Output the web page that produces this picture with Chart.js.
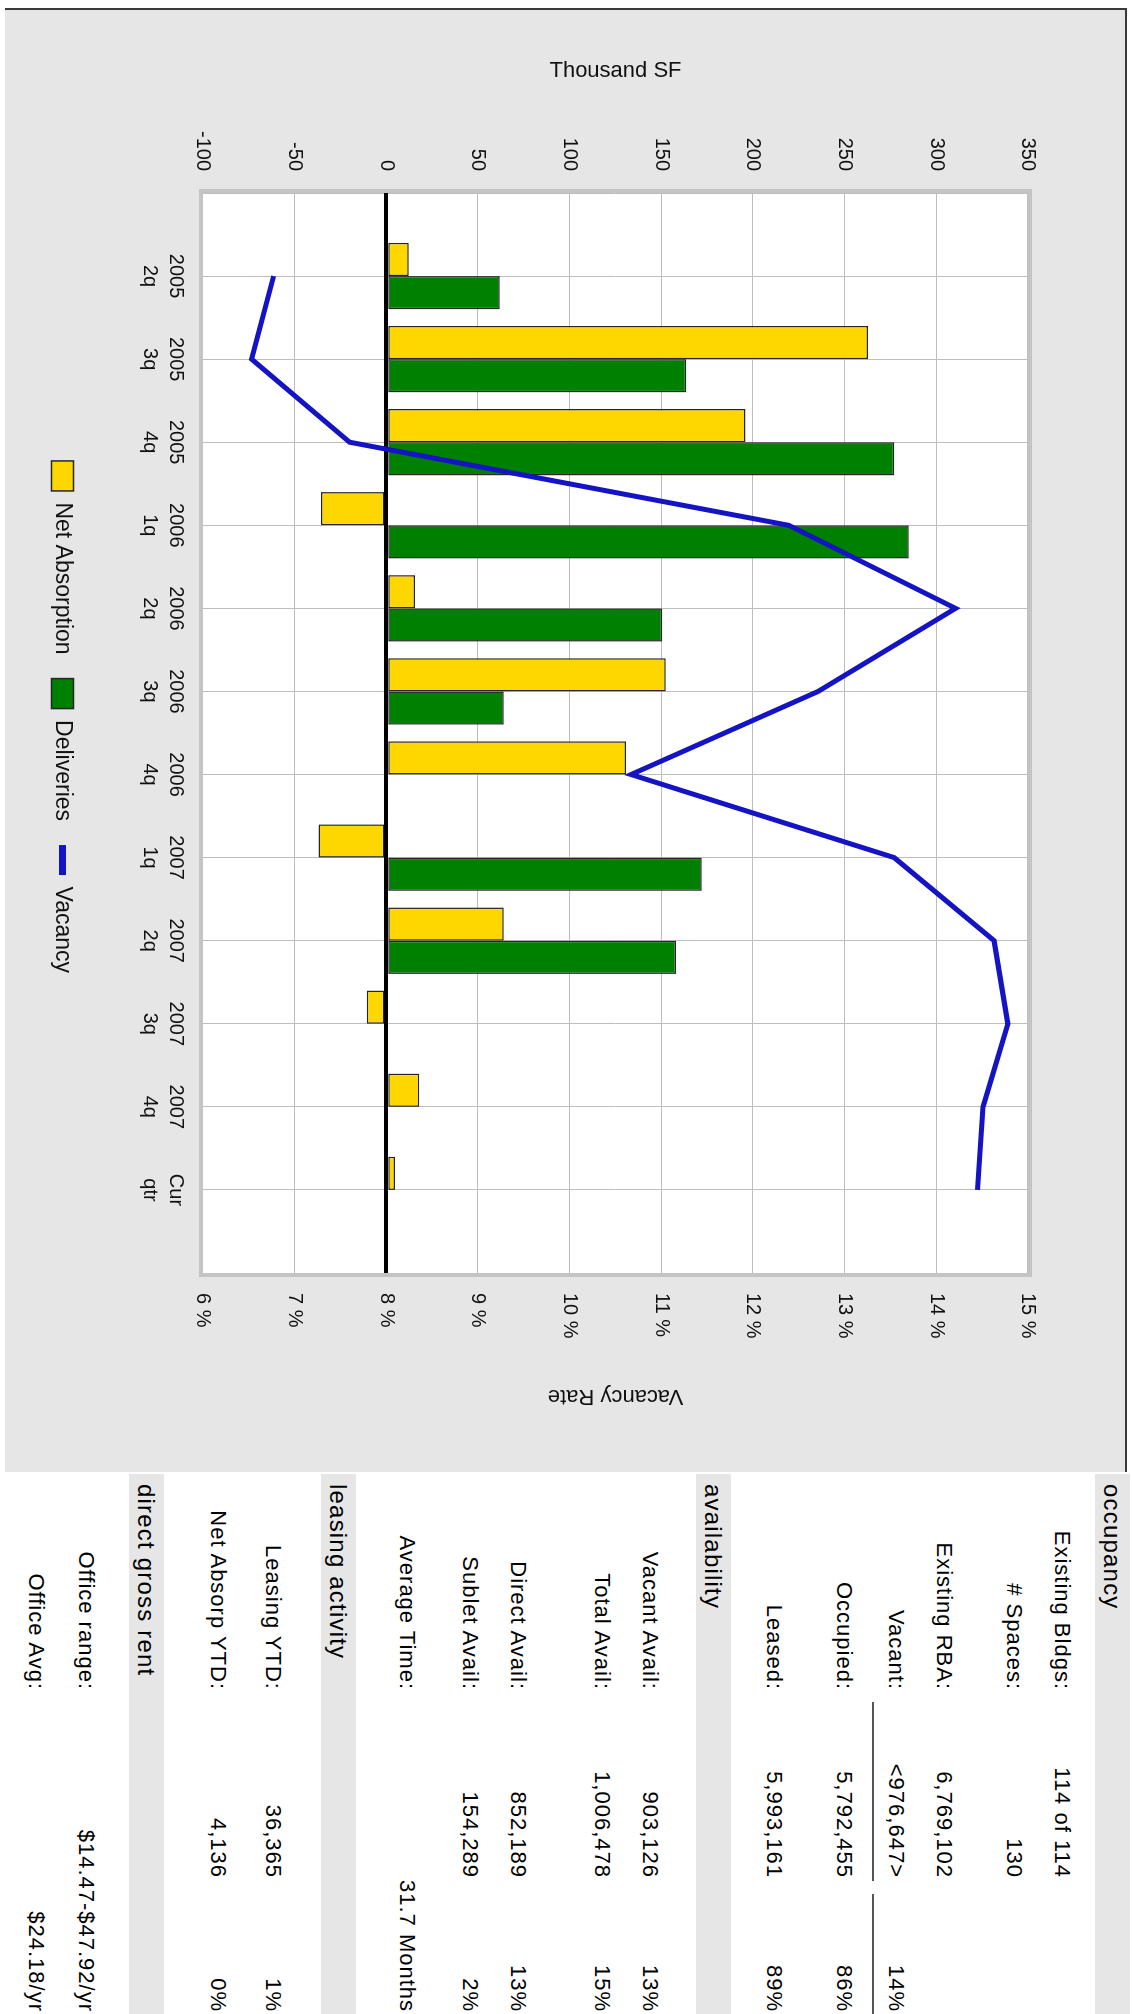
<!DOCTYPE html>
<html>
<head>
<meta charset="utf-8">
<title>Office market summary</title>
<script src="https://cdn.jsdelivr.net/npm/chart.js@4.4.1/dist/chart.umd.min.js"></script>
<style>
  html, body { margin: 0; padding: 0; background: #fff; overflow: hidden; }
  body { width: 1132px; height: 2014px; position: relative; }
  /* the report is laid out landscape and turned a quarter clockwise */
  #page {
    position: absolute; left: 0; top: 0;
    width: 2014px; height: 1132px;
    transform-origin: 0 0;
    transform: translate(1132px, 0) rotate(90deg);
    font-family: "Liberation Sans", Arial, sans-serif;
    color: #000;
  }
  #panel {
    position: absolute; left: 8px; top: 5px;
    width: 1462px; height: 1120px;
    background: #e6e6e6;
    border-left: 2px solid #3a3a3a;
    border-top: 2px solid #3a3a3a;
  }
  #chart { display: block; }
  #stats {
    position: absolute; left: 1474px; top: 2px;
    width: 540px;
    border-collapse: collapse; table-layout: fixed;
    background: #fff;
    font-size: 22px; letter-spacing: 1px;
  }
  #stats td { padding: 0; white-space: nowrap; overflow: visible; }
  #stats tr.h td {
    height: 35px; background: #e6e6e6;
    font-size: 24px; letter-spacing: 1.2px;
    padding-left: 10px;
  }
  #stats tr.r td { height: 48px; line-height: 48px; }
  #stats td.k { text-align: right; padding-right: 10px; }
  #stats td.v { padding: 0 9px 0 2px; }
  #stats td.p { padding: 0 0 0 4px; }
  #stats td.w { text-align: right; padding-right: 2px; }
  #stats td.v div { text-align: right; padding-right: 3px; }
  #stats td.p div { text-align: right; padding-right: 2px; }
  #stats div.u { border-bottom: 2px solid #555; height: 46px; }
</style>
</head>
<body>
<div id="page">
  <div id="panel"><canvas id="chart" width="1462" height="1120"></canvas></div>
  <table id="stats">
    <colgroup><col style="width:226px"><col style="width:190px"><col style="width:124px"></colgroup>
    <tr class="h"><td colspan="3">occupancy</td></tr>
    <tr><td colspan="3" style="height:9px"></td></tr>
    <tr class="r"><td class="k">Existing Bldgs:</td><td class="v"><div>114 of 114</div></td><td class="p"></td></tr>
    <tr class="r"><td class="k"># Spaces:</td><td class="v"><div>130</div></td><td class="p"></td></tr>
    <tr><td colspan="3" style="height:22px"></td></tr>
    <tr class="r"><td class="k">Existing RBA:</td><td class="v"><div>6,769,102</div></td><td class="p"></td></tr>
    <tr class="r"><td class="k">Vacant:</td><td class="v"><div class="u">&lt;976,647&gt;</div></td><td class="p"><div class="u">14%</div></td></tr>
    <tr><td colspan="3" style="height:4px"></td></tr>
    <tr class="r"><td class="k">Occupied:</td><td class="v"><div>5,792,455</div></td><td class="p"><div>86%</div></td></tr>
    <tr><td colspan="3" style="height:22px"></td></tr>
    <tr class="r"><td class="k">Leased:</td><td class="v"><div>5,993,161</div></td><td class="p"><div>89%</div></td></tr>
    <tr><td colspan="3" style="height:19px"></td></tr>
    <tr class="h"><td colspan="3">availability</td></tr>
    <tr><td colspan="3" style="height:22px"></td></tr>
    <tr class="r"><td class="k">Vacant Avail:</td><td class="v"><div>903,126</div></td><td class="p"><div>13%</div></td></tr>
    <tr class="r"><td class="k">Total Avail:</td><td class="v"><div>1,006,478</div></td><td class="p"><div>15%</div></td></tr>
    <tr><td colspan="3" style="height:36px"></td></tr>
    <tr class="r"><td class="k">Direct Avail:</td><td class="v"><div>852,189</div></td><td class="p"><div>13%</div></td></tr>
    <tr class="r"><td class="k">Sublet Avail:</td><td class="v"><div>154,289</div></td><td class="p"><div>2%</div></td></tr>
    <tr><td colspan="3" style="height:15px"></td></tr>
    <tr class="r"><td class="k">Average Time:</td><td class="w" colspan="2">31.7 Months</td></tr>
    <tr><td colspan="3" style="height:27px"></td></tr>
    <tr class="h"><td colspan="3">leasing activity</td></tr>
    <tr><td colspan="3" style="height:24px"></td></tr>
    <tr class="r"><td class="k">Leasing YTD:</td><td class="v"><div>36,365</div></td><td class="p"><div>1%</div></td></tr>
    <tr><td colspan="3" style="height:7px"></td></tr>
    <tr class="r"><td class="k">Net Absorp YTD:</td><td class="v"><div>4,136</div></td><td class="p"><div>0%</div></td></tr>
    <tr><td colspan="3" style="height:30px"></td></tr>
    <tr class="h"><td colspan="3">direct gross rent</td></tr>
    <tr><td colspan="3" style="height:19px"></td></tr>
    <tr class="r"><td class="k">Office range:</td><td class="w" colspan="2">$14.47-$47.92/yr</td></tr>
    <tr><td colspan="3" style="height:2px"></td></tr>
    <tr class="r"><td class="k">Office Avg:</td><td class="w" colspan="2">$24.18/yr</td></tr>
  </table>
</div>
<script>
// quarterly figures, thousand SF and percent
const quarters = [
    ['2005', '2q'], ['2005', '3q'], ['2005', '4q'],
    ['2006', '1q'], ['2006', '2q'], ['2006', '3q'], ['2006', '4q'],
    ['2007', '1q'], ['2007', '2q'], ['2007', '3q'], ['2007', '4q'],
    ['Cur', 'qtr']
];
const netAbsorption = [12.2, 262.7, 195.9, -35.7, 15.7, 152.4, 130.7, -37.0, 64.0, -10.7, 17.9, 4.7];
const deliveries = [61.8, 163.6, 277.0, 285.0, 150.5, 64.0, 0, 172.0, 158.0, 0, 0, 0];
const vacancyRate = [6.77, 6.53, 7.60, 12.39, 14.21, 12.71, 10.67, 13.54, 14.63, 14.78, 14.51, 14.45];

// empty slot at each end so the quarters sit one step in from the frame
const pad = arr => [null, ...arr, null];

Chart.defaults.font.family = '"Liberation Sans", Arial, sans-serif';
Chart.defaults.color = '#111';

const gridColor = '#bdbdbd';

const plotFrame = {
    id: 'plotFrame',
    beforeDraw(chart) {
        const {ctx, chartArea: a} = chart;
        ctx.save();
        ctx.fillStyle = '#fff';
        ctx.fillRect(a.left, a.top, a.right - a.left, a.bottom - a.top);
        ctx.restore();
    },
    afterDraw(chart) {
        const {ctx, chartArea: a} = chart;
        ctx.save();
        ctx.strokeStyle = '#c4c4c4';
        ctx.lineWidth = 4;
        ctx.strokeRect(a.left - 2, a.top - 2, a.right - a.left + 4, a.bottom - a.top + 4);
        ctx.restore();
    }
};

new Chart(document.getElementById('chart'), {
    type: 'bar',
    data: {
        labels: ['', ...quarters, ''],
        datasets: [{
            label: 'Net Absorption',
            data: pad(netAbsorption),
            backgroundColor: '#ffd700',
            borderColor: '#262626',
            borderWidth: 1.5,
            borderSkipped: false,
            categoryPercentage: 0.8,
            barPercentage: 1,
            yAxisID: 'y',
            order: 1
        }, {
            label: 'Deliveries',
            data: pad(deliveries),
            backgroundColor: '#008000',
            borderColor: '#262626',
            borderWidth: 1.5,
            borderSkipped: false,
            categoryPercentage: 0.8,
            barPercentage: 1,
            yAxisID: 'y',
            order: 1
        }, {
            type: 'line',
            label: 'Vacancy',
            data: pad(vacancyRate),
            borderColor: '#1414c4',
            backgroundColor: '#1414c4',
            borderWidth: 5,
            pointRadius: 0,
            tension: 0,
            yAxisID: 'y1',
            order: 0
        }]
    },
    options: {
        responsive: false,
        animation: false,
        layout: {padding: {left: 0, right: 48, top: 97, bottom: 36}},
        scales: {
            x: {
                type: 'category',
                offset: false,
                grid: {offset: false, color: gridColor, drawTicks: false},
                border: {display: false},
                ticks: {autoSkip: false, maxRotation: 0, minRotation: 0, padding: 14,
                    font: {size: 20, lineHeight: 1.3}},
                afterFit: s => { s.height = 105; }
            },
            y: {
                type: 'linear',
                position: 'left',
                min: -100,
                max: 350,
                ticks: {stepSize: 50, padding: 22, font: {size: 20}},
                grid: {
                    drawTicks: false,
                    color: c => c.tick && c.tick.value === 0 ? '#000' : gridColor,
                    lineWidth: c => c.tick && c.tick.value === 0 ? 4 : 1
                },
                border: {display: false},
                title: {display: true, text: 'Thousand SF', font: {size: 22}, padding: {top: 48, bottom: 0}},
                afterFit: s => { s.width = 183; }
            },
            y1: {
                type: 'linear',
                position: 'right',
                min: 6,
                max: 15,
                ticks: {stepSize: 1, padding: 20, font: {size: 20}, callback: v => v + ' %'},
                grid: {display: false, drawTicks: false},
                border: {display: false},
                title: {display: true, text: 'Vacancy Rate', font: {size: 22}, padding: {top: 15, bottom: 0}},
                afterFit: s => { s.width = 151; }
            }
        },
        plugins: {
            tooltip: {enabled: false},
            legend: {
                position: 'bottom',
                labels: {
                    usePointStyle: true,
                    pointStyleWidth: 30,
                    boxHeight: 22,
                    padding: 24,
                    font: {size: 23},
                    generateLabels(chart) {
                        const items = Chart.defaults.plugins.legend.labels.generateLabels(chart);
                        items.sort((a, b) => a.datasetIndex - b.datasetIndex);
                        items.forEach(item => {
                            if (chart.data.datasets[item.datasetIndex].type === 'line') {
                                item.pointStyle = 'line';
                                item.lineWidth = 7;
                            } else {
                                item.pointStyle = 'rect';
                            }
                        });
                        return items;
                    }
                }
            }
        }
    },
    plugins: [plotFrame]
});
</script>
</body>
</html>
